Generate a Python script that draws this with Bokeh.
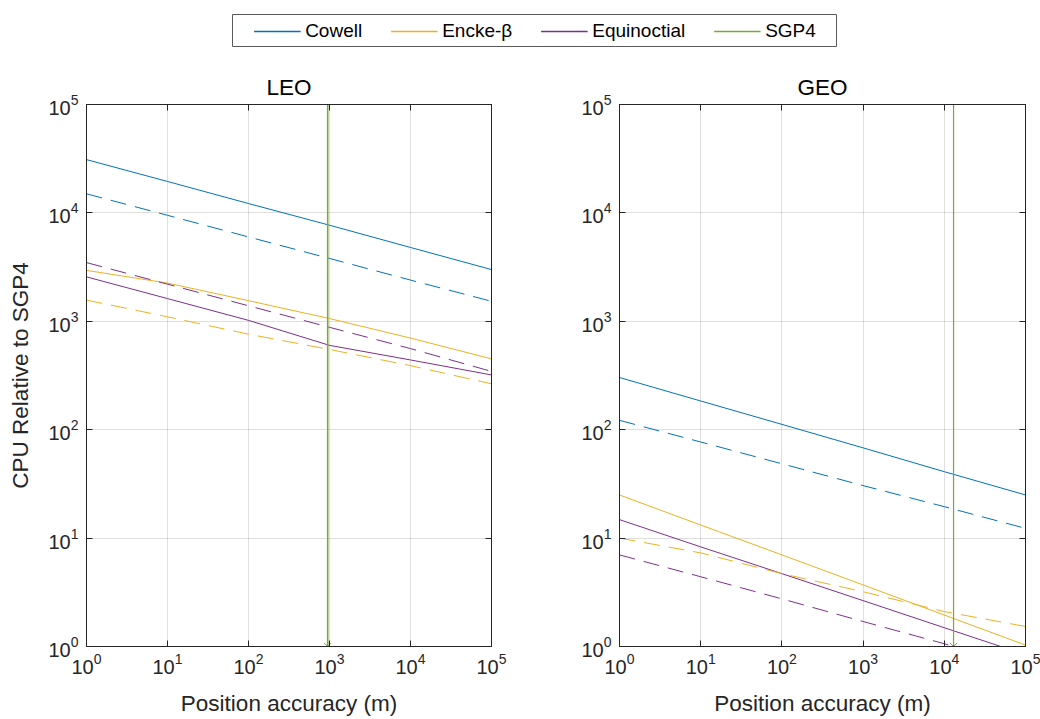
from bokeh.plotting import figure
from bokeh.models import Legend, LegendItem, LogAxis, FixedTicker, CustomJSTickFormatter
from bokeh.layouts import column, row
from bokeh.embed import file_html
from bokeh.resources import INLINE

# ---------------- data ----------------
accuracy = [1, 10, 100, 1000, 10000, 100000]
decade_ticks = [1, 10, 100, 1000, 10000, 100000]

leo_cowell = [31000, 19500, 12200, 7700, 4800, 3000]
leo_cowell_dash = [15000, 9500, 6000, 3800, 2400, 1530]
leo_encke = [2950, 2250, 1550, 1060, 700, 450]
leo_encke_dash = [1570, 1100, 760, 550, 390, 265]
leo_equin = [2570, 1620, 1020, 600, 440, 320]
leo_equin_dash = [3480, 2200, 1390, 880, 560, 345]
leo_sgp4_x = 950

geo_cowell = [303, 184, 112, 68, 41, 25]
geo_cowell_dash = [122, 77, 48.5, 30.5, 19.5, 12.3]
geo_encke = [25, 13.2, 7.0, 3.7, 1.95, 1.03]
geo_encke_dash = [10, 7.3, 4.7, 3.2, 2.1, 1.53]
geo_equin = [14.8, 8.3, 4.7, 2.65, 1.49, 0.84]
geo_equin_dash = [7.0, 4.4, 2.75, 1.7, 1.06, 0.65]
geo_sgp4_x = 13000

sgp4_y = [1, 100000]
sgp4_marker_y = 1

series_names = ["Cowell", "Encke-\u03b2", "Equinoctial", "SGP4"]
colors = ["#0072BD", "#EDB120", "#7E2F8E", "#77AC30"]

FONT = "Liberation Sans"
AX = "#262626"
DASH = "16 9"


def make_panel(title, solid, dashed, sgp4_x, width, left, right, ylabel, sgp4_w):
    p = figure(width=width, height=671, x_axis_type="log", y_axis_type="log",
               x_range=(1, 1e5), y_range=(1, 1e5),
               toolbar_location=None, output_backend="svg",
               min_border_left=left, min_border_right=right,
               min_border_top=57, min_border_bottom=71,
               outline_line_color=AX, outline_line_width=1)
    p.title.text = title
    p.title.align = "center"
    p.title.text_font = FONT
    p.title.text_font_size = "22.5px"
    p.title.text_font_style = "normal"
    p.title.text_color = "black"
    p.title.standoff = 10

    ticker = FixedTicker(ticks=decade_ticks, minor_ticks=[])
    for ax in (p.xaxis[0], p.yaxis[0]):
        ax.ticker = ticker
        ax.major_tick_in = 6
        ax.major_tick_out = 0
        ax.minor_tick_in = 0
        ax.minor_tick_out = 0
        ax.axis_line_color = AX
        ax.major_tick_line_color = AX
        ax.major_label_text_font = FONT
        ax.major_label_text_font_size = "20px"
        ax.major_label_text_color = AX
        ax.axis_label_text_font = FONT
        ax.axis_label_text_font_size = "22.5px"
        ax.axis_label_text_font_style = "normal"
        ax.axis_label_text_color = AX
    p.xaxis[0].major_label_standoff = 6
    p.yaxis[0].major_label_standoff = 8
    p.xaxis[0].axis_label = "Position accuracy (m)"
    p.xaxis[0].axis_label_standoff = 14
    if ylabel:
        p.yaxis[0].axis_label = ylabel
        p.yaxis[0].axis_label_standoff = 12

    for g in (p.xgrid[0], p.ygrid[0]):
        g.ticker = ticker
        g.grid_line_color = AX
        g.grid_line_alpha = 0.15

    for loc in ("above", "right"):
        ax = LogAxis(ticker=ticker, major_tick_in=6, major_tick_out=0,
                     minor_tick_in=0, minor_tick_out=0,
                     axis_line_color=AX, major_tick_line_color=AX,
                     formatter=CustomJSTickFormatter(code="return ''"),
                     major_label_text_font_size="1px", major_label_standoff=0)
        p.add_layout(ax, loc)

    cs, es, qs = solid
    cd, ed, qd = dashed
    for ys, c in zip((cs, es, qs), colors[:3]):
        p.line(accuracy, ys, line_color=c, line_width=1)
    for ys, c in zip((cd, ed, qd), colors[:3]):
        p.line(accuracy, ys, line_color=c, line_width=1, line_dash=DASH)
    p.line([sgp4_x, sgp4_x], sgp4_y, line_color=colors[3], line_width=sgp4_w)
    p.scatter([sgp4_x], [sgp4_marker_y], marker="asterisk", size=10,
              line_color=colors[3], line_width=1)
    return p


leo = make_panel("LEO", (leo_cowell, leo_encke, leo_equin),
                 (leo_cowell_dash, leo_encke_dash, leo_equin_dash),
                 leo_sgp4_x, 540, 86, 49, "CPU Relative to SGP4", 1.6)
geo = make_panel("GEO", (geo_cowell, geo_encke, geo_equin),
                 (geo_cowell_dash, geo_encke_dash, geo_equin_dash),
                 geo_sgp4_x, 500, 79, 15, None, 1.2)

# legend strip (legend-only renderers with no visible data)
lf = figure(width=605, height=33, toolbar_location=None, output_backend="svg",
            x_range=(0, 1), y_range=(0, 1),
            x_axis_location=None, y_axis_location=None, min_border=0,
            outline_line_color="#5a5a5a", outline_line_width=1,
            margin=(14, 0, 0, 232))
lf.xgrid.visible = False
lf.ygrid.visible = False
items = []
nan = float("nan")
for name, c in zip(series_names, colors):
    r = lf.line(x=[nan, nan], y=[nan, nan], line_color=c, line_width=1.6)
    items.append(LegendItem(label=name, renderers=[r]))
legend = Legend(items=items, orientation="horizontal", location="center",
                glyph_width=47, label_standoff=5, spacing=28, padding=0, margin=0,
                border_line_alpha=0, background_fill_alpha=0,
                label_text_font=FONT, label_text_font_size="19px",
                label_text_color="black")
lf.add_layout(legend, "center")

layout = column(lf, row(leo, geo), spacing=0)
open("out.html", "w").write(file_html(layout, INLINE))
